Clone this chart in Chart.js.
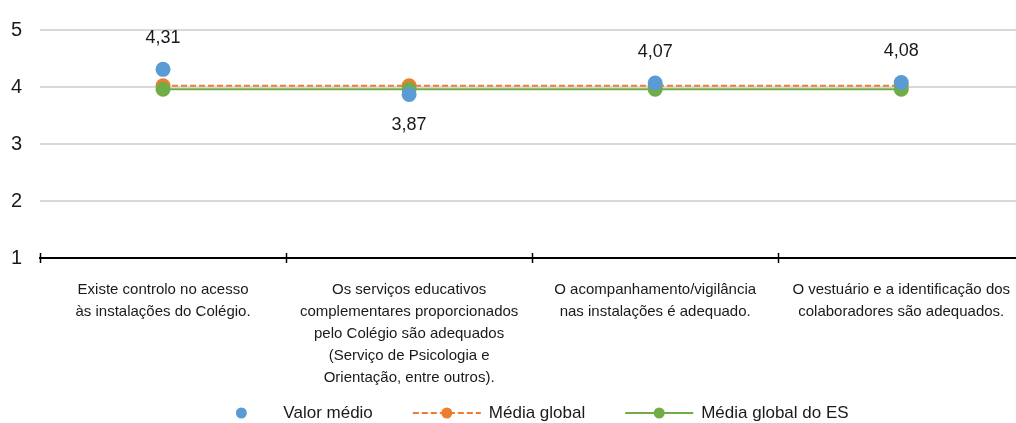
<!DOCTYPE html>
<html lang="pt">
<head>
<meta charset="utf-8">
<title>Avaliação dos serviços</title>
<script src="https://cdn.jsdelivr.net/npm/chart.js@4/dist/chart.umd.min.js"></script>
<style>
    html, body { margin: 0; padding: 0; background: #fff; overflow: hidden; }
    canvas { display: block; }
</style>
</head>
<body>
<canvas id="mediasChart" width="1032" height="423"></canvas>
<script>
// Categories (one per questionnaire item)
const categories = [
    ['Existe controlo no acesso', 'às instalações do Colégio.'],
    ['Os serviços educativos', 'complementares proporcionados', 'pelo Colégio são adequados', '(Serviço de Psicologia e', 'Orientação, entre outros).'],
    ['O acompanhamento/vigilância', 'nas instalações é adequado.'],
    ['O vestuário e a identificação dos', 'colaboradores são adequados.']
];

// Series values
const valorMedio = [4.31, 3.87, 4.07, 4.08];
const mediaGlobal = [4.02, 4.02, 4.02, 4.02];
const mediaGlobalES = [3.96, 3.96, 3.96, 3.96];

// Y axis tick range
const yTicks = [1, 2, 3, 4, 5];

const FONT = "'Liberation Sans', Arial, sans-serif";
const TEXT = '#1a1a1a';

Chart.defaults.font.family = FONT;
Chart.defaults.color = TEXT;

// Value labels on the "Valor médio" points (comma decimals)
const valueLabels = {
    id: 'valueLabels',
    afterDatasetsDraw(chart) {
        const ctx = chart.ctx;
        const meta = chart.getDatasetMeta(0);
        ctx.save();
        ctx.font = '18px ' + FONT;
        ctx.fillStyle = TEXT;
        ctx.textAlign = 'center';
        ctx.textBaseline = 'middle';
        meta.data.forEach((pt, i) => {
            const v = valorMedio[i];
            const below = v < mediaGlobalES[i];
            const y = below ? pt.y + 31 : pt.y - 31;
            ctx.fillText(v.toFixed(2).replace('.', ','), pt.x, y);
        });
        ctx.restore();
    }
};

// Tick marks that cross the category axis
const crossTicks = {
    id: 'crossTicks',
    afterDraw(chart) {
        const x = chart.scales.x;
        const ctx = chart.ctx;
        const step = x.width / categories.length;
        ctx.save();
        ctx.strokeStyle = '#000';
        ctx.lineWidth = 1.5;
        for (let i = 0; i <= categories.length; i++) {
            const px = Math.round(x.left + i * step) + 0.5;
            ctx.beginPath();
            ctx.moveTo(px, x.top - 5);
            ctx.lineTo(px, x.top + 5);
            ctx.stroke();
        }
        ctx.restore();
    }
};

// Legend drawn along the bottom, with line + marker symbols
const bottomLegend = {
    id: 'bottomLegend',
    afterDraw(chart) {
        const ctx = chart.ctx;
        const symW = 68, gapText = 8, gapItem = 40;
        const y = 413;
        ctx.save();
        ctx.font = '17px ' + FONT;
        const items = chart.data.datasets.map(ds => ({
            ds,
            w: symW + gapText + ctx.measureText(ds.label).width
        }));
        const total = items.reduce((s, it) => s + it.w, 0) + gapItem * (items.length - 1);
        let x = 528 - total / 2;
        items.forEach(({ ds, w }) => {
            const cx = x + symW / 2;
            if (ds.showLine !== false) {
                ctx.strokeStyle = ds.borderColor;
                ctx.lineWidth = 2;
                ctx.setLineDash(ds.borderDash || []);
                ctx.beginPath();
                ctx.moveTo(x, y);
                ctx.lineTo(x + symW, y);
                ctx.stroke();
                ctx.setLineDash([]);
            }
            ctx.fillStyle = ds.pointBackgroundColor;
            ctx.beginPath();
            ctx.arc(cx, y, 5.5, 0, Math.PI * 2);
            ctx.fill();
            ctx.fillStyle = TEXT;
            ctx.textAlign = 'left';
            ctx.textBaseline = 'middle';
            ctx.fillText(ds.label, x + symW + gapText, y);
            x += w + gapItem;
        });
        ctx.restore();
    }
};

const ctx = document.getElementById('mediasChart').getContext('2d');
new Chart(ctx, {
    type: 'line',
    data: {
        labels: categories,
        datasets: [{
            label: 'Valor médio',
            data: valorMedio,
            showLine: false,
            pointRadius: 7.5,
            pointBorderWidth: 0,
            pointBackgroundColor: '#5B9BD5',
            borderColor: '#5B9BD5',
            order: 0
        }, {
            label: 'Média global',
            data: mediaGlobal,
            borderColor: '#ED7D31',
            borderWidth: 2,
            borderDash: [6, 3],
            pointRadius: 7.5,
            pointBorderWidth: 0,
            pointBackgroundColor: '#ED7D31',
            order: 2
        }, {
            label: 'Média global do ES',
            data: mediaGlobalES,
            borderColor: '#70AD47',
            borderWidth: 2,
            pointRadius: 7.5,
            pointBorderWidth: 0,
            pointBackgroundColor: '#70AD47',
            order: 1
        }]
    },
    options: {
        responsive: false,
        animation: false,
        layout: { padding: { top: 26, right: 0, bottom: 0, left: 0 } },
        plugins: {
            legend: { display: false },
            tooltip: { enabled: false }
        },
        scales: {
            x: {
                offset: true,
                grid: { offset: true, drawOnChartArea: false, drawTicks: false },
                border: { display: true, color: '#000', width: 2 },
                ticks: {
                    autoSkip: false,
                    maxRotation: 0,
                    padding: 21,
                    color: TEXT,
                    font: { size: 15, lineHeight: '22px' }
                },
                afterFit(scale) { scale.height = 165; }
            },
            y: {
                min: yTicks[0],
                max: yTicks[yTicks.length - 1],
                afterBuildTicks(scale) { scale.ticks = yTicks.map(v => ({ value: v })); },
                grid: {
                    drawTicks: false,
                    color: c => c.tick.value === yTicks[0] ? 'rgba(0,0,0,0)' : '#d9d9d9',
                    lineWidth: 2
                },
                border: { display: false },
                ticks: { padding: 18, color: TEXT, font: { size: 20 } },
                afterFit(scale) { scale.width = 40; }
            }
        }
    },
    plugins: [valueLabels, crossTicks, bottomLegend]
});
</script>
</body>
</html>
